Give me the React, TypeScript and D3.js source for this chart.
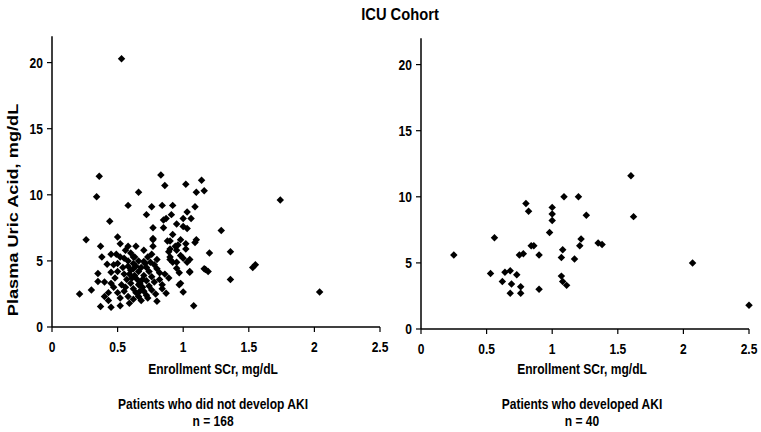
import React from 'react';
import * as d3 from 'd3';

const xTicks = [0, 0.5, 1, 1.5, 2, 2.5];
const yTicks = [0, 5, 10, 15, 20];

// patients who did not develop AKI: [enrollment SCr, plasma uric acid]
const noAki: [number, number][] = [
  [0.53, 20.3], [1.74, 9.6], [2.04, 2.65], [1.53, 4.5], [1.55, 4.7], [1.36, 5.7], [1.36, 3.6], [1.29, 7.3],
  [0.36, 11.4], [0.34, 9.85], [0.44, 8.0], [0.5, 6.8], [0.58, 9.2], [0.66, 10.2], [0.83, 11.5], [0.86, 10.7],
  [1.02, 10.8], [1.14, 11.1], [1.1, 10.2], [1.16, 10.3], [0.76, 9.1], [0.84, 9.2], [0.92, 9.2], [1.09, 9.1],
  [0.72, 8.5], [1.03, 8.7], [0.91, 8.5], [0.85, 8.1], [0.87, 8.2], [1.06, 8.2], [1.0, 8.2], [0.95, 7.8],
  [1.0, 7.6], [1.03, 7.45], [0.77, 7.5], [0.85, 7.5], [0.92, 7.0], [0.26, 6.6], [0.77, 6.7], [1.1, 6.6],
  [0.98, 6.6], [0.37, 6.1], [0.52, 6.3], [0.58, 6.1], [0.38, 5.3], [0.45, 5.5], [0.49, 5.5], [0.5, 4.8],
  [0.42, 4.75], [0.45, 4.15], [0.35, 4.05], [0.35, 3.45], [0.4, 3.4], [0.21, 2.5], [0.3, 2.8], [0.37, 1.55],
  [0.43, 2.0], [0.45, 1.5], [0.52, 1.6], [0.59, 1.8], [0.8, 1.95], [0.87, 2.55], [1.0, 2.65], [1.08, 1.6],
  [1.09, 6.4], [1.2, 5.6], [1.16, 4.4], [1.19, 4.2], [1.05, 4.15], [0.97, 3.2], [1.03, 4.9], [0.98, 5.4],
  [1.0, 5.2], [0.95, 4.9], [0.9, 5.1], [0.95, 4.45], [0.97, 4.1], [0.88, 6.5], [0.94, 6.1], [1.02, 6.3],
  [0.89, 5.7], [0.95, 5.8], [0.77, 6.6], [0.64, 6.1], [0.7, 5.8], [0.77, 6.1], [0.9, 6.5], [0.96, 6.2],
  [1.02, 5.9], [0.9, 5.9], [0.9, 5.3], [0.76, 5.5], [0.73, 5.3], [0.8, 5.1], [0.7, 4.95], [0.62, 4.8],
  [0.72, 4.5], [0.78, 4.7], [0.66, 4.2], [0.76, 3.8], [0.82, 4.1], [0.92, 4.9], [1.05, 5.1], [1.05, 4.2],
  [0.89, 3.7], [0.98, 3.3], [0.84, 2.9], [1.17, 4.35], [0.62, 5.3], [0.55, 5.2], [0.58, 4.6], [0.6, 4.3],
  [0.63, 3.9], [0.65, 3.6], [0.67, 3.3], [0.69, 3.0], [0.7, 2.7], [0.72, 2.4], [0.62, 2.9], [0.6, 3.3],
  [0.57, 3.6], [0.55, 4.0], [0.53, 3.2], [0.55, 2.7], [0.58, 2.3], [0.62, 2.1], [0.66, 2.3], [0.68, 2.0],
  [0.72, 3.5], [0.74, 3.1], [0.74, 4.2], [0.68, 4.5], [0.66, 5.0], [0.6, 5.6], [0.56, 5.8], [0.52, 5.3],
  [0.5, 4.2], [0.48, 3.7], [0.47, 3.0], [0.5, 2.6], [0.52, 2.2], [0.45, 3.3], [0.43, 2.6], [0.4, 2.3],
  [0.64, 2.6], [0.7, 3.9], [0.76, 2.8], [0.78, 3.4], [0.8, 4.4], [0.82, 3.6], [0.84, 3.2], [0.86, 4.0],
  [0.56, 3.0], [0.61, 3.7], [0.64, 4.6], [0.59, 4.0], [0.67, 2.7], [0.71, 4.8], [0.54, 4.5], [0.58, 5.0],
  [0.47, 4.7], [0.63, 5.3], [0.73, 2.2], [0.79, 2.5], [0.69, 3.6], [0.66, 3.2], [0.75, 4.9], [0.62, 4.4],
];

// patients who developed AKI
const aki: [number, number][] = [
  [0.25, 5.6], [0.56, 6.9], [0.53, 4.2], [0.62, 3.6], [0.64, 4.3], [0.68, 4.4], [0.69, 3.4], [0.68, 2.7],
  [0.73, 4.1], [0.76, 3.2], [0.76, 2.7], [0.75, 5.6], [0.78, 5.7], [0.8, 9.5], [0.82, 8.9], [0.84, 6.3],
  [0.86, 6.3], [0.9, 5.6], [0.9, 3.0], [0.98, 7.3], [1.0, 9.2], [1.0, 8.7], [1.0, 8.2], [1.09, 10.0],
  [1.08, 6.0], [1.07, 5.4], [1.07, 4.0], [1.08, 3.6], [1.11, 3.3], [1.17, 5.3], [1.2, 10.0], [1.26, 8.6],
  [1.22, 6.8], [1.21, 6.3], [1.35, 6.5], [1.38, 6.4], [1.6, 11.6], [1.62, 8.5], [2.07, 5.0], [2.5, 1.8],
];

const font = '"Liberation Sans", Arial, sans-serif';
const marker = d3.symbol(d3.symbolSquare, 28)();

// the source picture is a bit taller than wide, so glyphs look condensed
const Label = ({ x, y, anchor, children }: { x: number; y: number; anchor: string; children: React.ReactNode }) => (
  <text
    transform={`translate(${x},${y}) scale(0.86,1)`}
    dy="0.35em"
    textAnchor={anchor}
    fontSize={14}
    fontWeight="bold"
  >
    {children}
  </text>
);

type PanelProps = {
  data: [number, number][];
  x0: number;
  x1: number;
  y0: number;
  title: string;
  n: string;
};

const Panel = ({ data, x0, x1, y0, title, n }: PanelProps) => {
  const x = d3.scaleLinear().domain([0, 2.5]).range([x0, x1]);
  const y = d3.scaleLinear().domain([0, 22]).range([y0, y0 - 22 * 13.22]);
  const cx = (x0 + x1) / 2 - 3;
  return (
    <g>
      {data.map((d, i) => (
        <path key={i} d={marker} transform={`translate(${x(d[0])},${y(d[1])}) rotate(45)`} fill="#000" />
      ))}
      <line x1={x0} x2={x0} y1={y(0)} y2={y(22)} stroke="#000" strokeWidth={1.5} />
      <line x1={x0} x2={x1} y1={y(0)} y2={y(0)} stroke="#000" strokeWidth={1.5} />
      {yTicks.map((t) => (
        <g key={t}>
          <line x1={x0 - 5} x2={x0} y1={y(t)} y2={y(t)} stroke="#000" strokeWidth={1.2} />
          <Label x={x0 - 9} y={y(t)} anchor="end">
            {t}
          </Label>
        </g>
      ))}
      {xTicks.map((t) => (
        <g key={t}>
          <line x1={x(t)} x2={x(t)} y1={y(0)} y2={y(0) + 5} stroke="#000" strokeWidth={1.2} />
          <Label x={x(t)} y={y(0) + 20} anchor="middle">
            {t}
          </Label>
        </g>
      ))}
      <Label x={cx} y={369} anchor="middle">
        Enrollment SCr, mg/dL
      </Label>
      <Label x={cx} y={404} anchor="middle">
        {title}
      </Label>
      <Label x={cx} y={421} anchor="middle">
        {n}
      </Label>
    </g>
  );
};

export default function App() {
  return (
    <svg
      width={761}
      height={432}
      style={{ position: 'absolute', left: 0, top: 0, background: '#fff' }}
      fontFamily={font}
    >
      <text transform="translate(400,14) scale(0.92,1)" dy="0.35em" textAnchor="middle" fontSize={16} fontWeight="bold">
        ICU Cohort
      </text>
      <text
        transform="translate(13,210) rotate(-90) scale(1.3,1)"
        dy="0.35em"
        textAnchor="middle"
        fontSize={14}
        fontWeight="bold"
      >
        Plasma Uric Acid, mg/dL
      </text>
      <Panel data={noAki} x0={52} x1={380} y0={327} title="Patients who did not develop AKI" n="n = 168" />
      <Panel data={aki} x0={421} x1={749} y0={329} title="Patients who developed AKI" n="n = 40" />
    </svg>
  );
}
